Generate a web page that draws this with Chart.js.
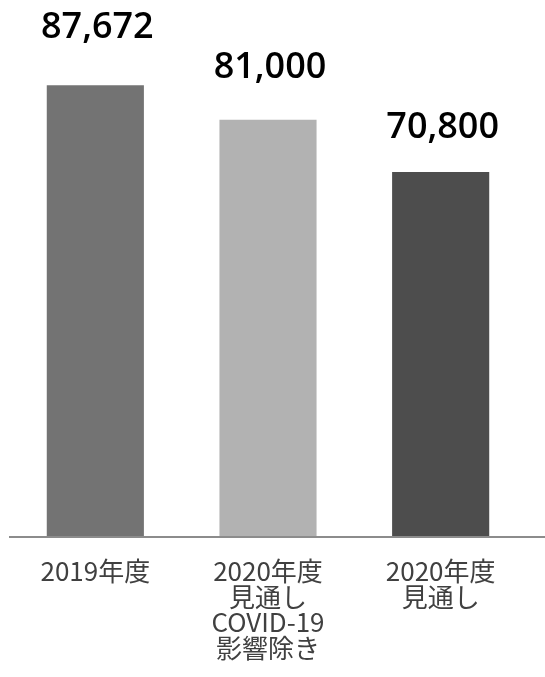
<!DOCTYPE html>
<html>
<head>
<meta charset="utf-8">
<script src="https://cdn.jsdelivr.net/npm/chart.js@4"></script>
<style>
  html, body { margin: 0; padding: 0; background: #ffffff; }
  #wrap { width: 545px; height: 677px; }
</style>
</head>
<body>
<div id="wrap"><canvas id="c" width="545" height="677"></canvas></div>
<script>
// ---- data ----
const categories = [
  ["2019年度"],
  ["2020年度", "見通し", "COVID-19", "影響除き"],
  ["2020年度", "見通し"]
];
const values = [87672, 81000, 70800];
const valueLabels = ["87,672", "81,000", "70,800"];
const barColors = ["#737373", "#b2b2b2", "#4d4d4d"];

const labelPlugin = {
  id: 'labels',
  afterDatasetsDraw(chart) {
    const ctx = chart.ctx;
    const meta = chart.getDatasetMeta(0);
    const area = chart.chartArea;
    ctx.save();
    // axis line
    ctx.strokeStyle = '#8c8c8c';
    ctx.lineWidth = 2;
    ctx.beginPath();
    ctx.moveTo(area.left, area.bottom + 1);
    ctx.lineTo(chart.width, area.bottom + 1);
    ctx.stroke();
    // value labels
    ctx.fillStyle = '#000000';
    ctx.textAlign = 'center';
    ctx.textBaseline = 'alphabetic';
    ctx.font = '600 36px "Open Sans", "Noto Sans", sans-serif';
    meta.data.forEach((bar, i) => {
      const h = bar.base - bar.y;
      const gap = 0.15 * h - 20.6;
      ctx.fillText(valueLabels[i], bar.x + 2, bar.y - gap);
    });
    // category labels
    ctx.fillStyle = '#404040';
    ctx.font = '26px "Noto Sans CJK JP", "Noto Sans", sans-serif';
    ctx.textBaseline = 'middle';
    meta.data.forEach((bar, i) => {
      categories[i].forEach((line, j) => {
        ctx.fillText(line, bar.x, area.bottom + 35 + j * 25.7);
      });
    });
    ctx.restore();
  }
};

new Chart(document.getElementById('c'), {
  type: 'bar',
  data: {
    labels: categories.map(c => c.join(' ')),
    datasets: [{
      data: values,
      backgroundColor: barColors,
      borderWidth: 0,
      barPercentage: 0.5625,
      categoryPercentage: 1.0
    }]
  },
  options: {
    responsive: false,
    animation: false,
    devicePixelRatio: 1,
    layout: { padding: { left: 9, right: 18, top: 22, bottom: 141 } },
    plugins: { legend: { display: false }, tooltip: { enabled: false } },
    scales: {
      x: { display: false, offset: true },
      y: { display: false, min: 0, max: 100000 }
    }
  },
  plugins: [labelPlugin]
});
</script>
</body>
</html>
